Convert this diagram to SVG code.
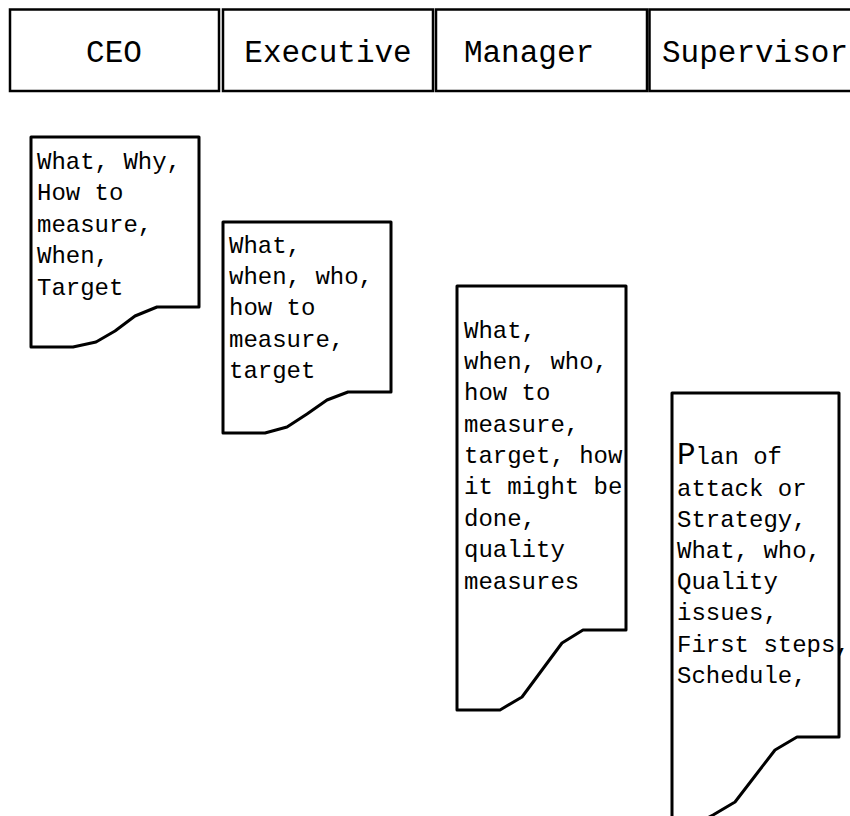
<svg xmlns="http://www.w3.org/2000/svg" width="850" height="816" viewBox="0 0 850 816">
  <style>
    .hdr { fill: #fff; stroke: #000; stroke-width: 2.5; }
    .hdr-t { font-family: "Courier New", "Liberation Mono", monospace; font-size: 31px; fill: #000; }
    .doc { fill: #fff; stroke: #000; stroke-width: 3; stroke-linejoin: round; }
    .doc-t { font-family: "Courier New", "Liberation Mono", monospace; font-size: 24px; fill: #000; }
  </style>
  <rect width="850" height="816" fill="#fff"/>

  <!-- role header row -->
  <g id="hdr-ceo">
    <rect class="hdr" x="10" y="9.5" width="209" height="81.5"/>
    <text class="hdr-t" x="114" y="62" text-anchor="middle">CEO</text>
  </g>
  <g id="hdr-executive">
    <rect class="hdr" x="223" y="9.5" width="210" height="81.5"/>
    <text class="hdr-t" x="328" y="62" text-anchor="middle">Executive</text>
  </g>
  <g id="hdr-manager">
    <rect class="hdr" x="436" y="9.5" width="211" height="81.5"/>
    <text class="hdr-t" x="529" y="62" text-anchor="middle">Manager</text>
  </g>
  <g id="hdr-supervisor">
    <rect class="hdr" x="649.5" y="9.5" width="220" height="81.5"/>
    <text class="hdr-t" x="662" y="62">Supervisor</text>
  </g>

  <!-- documents, one per level -->
  <g id="doc-ceo">
    <path class="doc" d="M31,137 H199 V307 H157 L135,316 L115,331 L96,342 L73,347 H31 Z"/>
    <text class="doc-t" x="37">
      <tspan x="37" y="169">What, Why,</tspan>
      <tspan x="37" y="200">How to</tspan>
      <tspan x="37" y="232">measure,</tspan>
      <tspan x="37" y="263">When,</tspan>
      <tspan x="37" y="295">Target</tspan>
    </text>
  </g>

  <g id="doc-executive">
    <path class="doc" d="M223,222 H391 V392 H348 L327,400 L307,414 L287,427 L265,433 H223 Z"/>
    <text class="doc-t" x="229">
      <tspan x="229" y="253">What,</tspan>
      <tspan x="229" y="284">when, who,</tspan>
      <tspan x="229" y="315">how to</tspan>
      <tspan x="229" y="347">measure,</tspan>
      <tspan x="229" y="378">target</tspan>
    </text>
  </g>

  <g id="doc-manager">
    <path class="doc" d="M457,286 H626 V630 H583 L562,643 L542,670 L522,697 L500,710 H457 Z"/>
    <text class="doc-t" x="464">
      <tspan x="464" y="338">What,</tspan>
      <tspan x="464" y="369">when, who,</tspan>
      <tspan x="464" y="400">how to</tspan>
      <tspan x="464" y="432">measure,</tspan>
      <tspan x="464" y="463">target, how</tspan>
      <tspan x="464" y="494">it might be</tspan>
      <tspan x="464" y="526">done,</tspan>
      <tspan x="464" y="557">quality</tspan>
      <tspan x="464" y="589">measures</tspan>
    </text>
  </g>

  <g id="doc-supervisor">
    <path class="doc" d="M672,393 H839 V737 H797 L775,750 L755,776 L735,802 L713,815 L700,822 H672 Z"/>
    <text class="doc-t" x="677">
      <tspan x="677" y="464"><tspan font-size="31px">P</tspan>lan of</tspan>
      <tspan x="677" y="496">attack or</tspan>
      <tspan x="677" y="527">Strategy,</tspan>
      <tspan x="677" y="558">What, who,</tspan>
      <tspan x="677" y="589">Quality</tspan>
      <tspan x="677" y="620">issues,</tspan>
      <tspan x="677" y="652">First steps,</tspan>
      <tspan x="677" y="683">Schedule,</tspan>
    </text>
  </g>
</svg>
